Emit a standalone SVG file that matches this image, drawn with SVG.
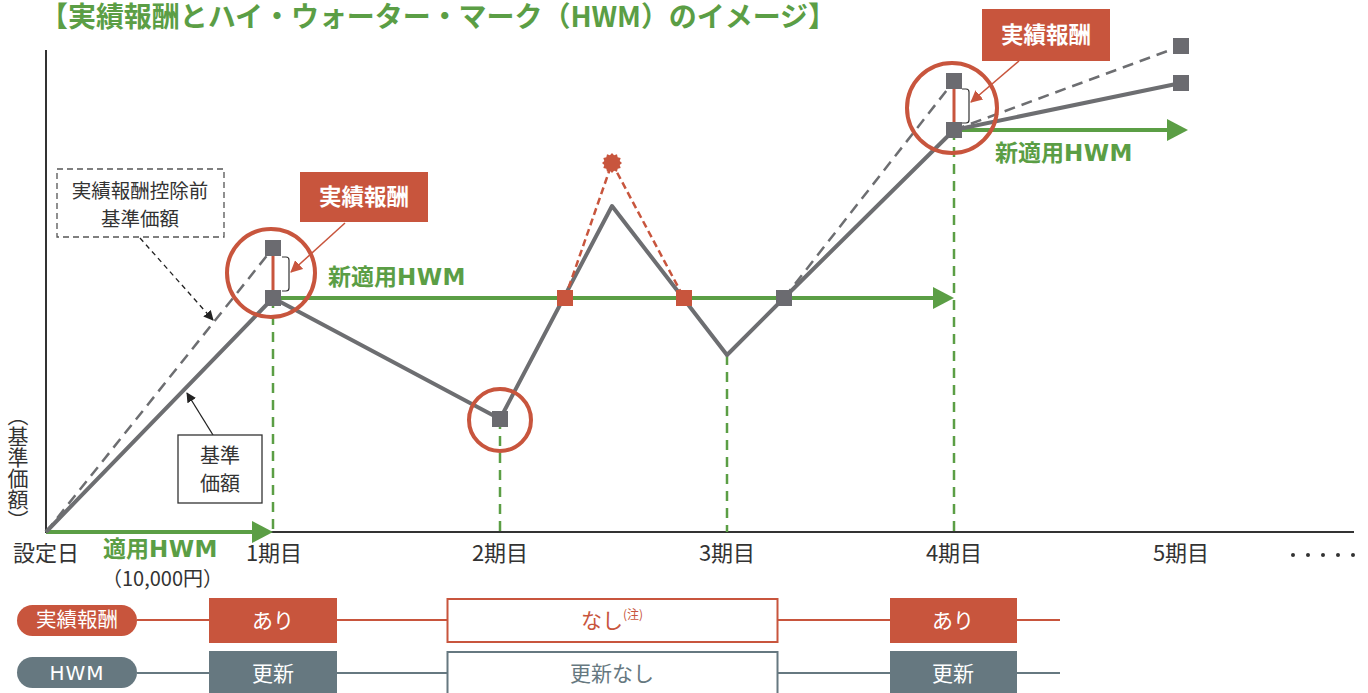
<svg xmlns="http://www.w3.org/2000/svg" width="1368" height="693" viewBox="0 0 1368 693">
<style>
text{font-family:"Noto Sans CJK JP","Noto Sans",sans-serif}
.ax{stroke:#333;stroke-width:2;fill:none}
.gd{stroke:#5b9e45;stroke-width:2.5;stroke-dasharray:10 7;fill:none}
.gl{stroke:#5b9e45;stroke-width:4;fill:none}
.ga{fill:#5b9e45}
.base{stroke:#6d6e71;stroke-width:4;fill:none;stroke-linejoin:round}
.pre{stroke:#6d6e71;stroke-width:2.5;stroke-dasharray:11 7;fill:none}
.rd{stroke:#c8553d;stroke-width:2.5;stroke-dasharray:7 4;fill:none}
.sq{fill:#6b6b70}
.rsq{fill:#c8553d}
.circ{fill:none;stroke:#c8553d;stroke-width:4}
.lbl{font-size:22px;fill:#333}
.gt{font-size:23px;font-weight:bold;fill:#5b9e45}
.lat{font-family:"DejaVu Sans",sans-serif;letter-spacing:0.5px}
.rbox{fill:#c8553d}
.bbox{fill:#667880}
.wt{font-size:21px;fill:#fff;text-anchor:middle}
.brk{fill:none;stroke:#333;stroke-width:1.2}
</style>
<defs>
<marker id="ab" markerWidth="10" markerHeight="10" refX="9" refY="5" orient="auto" markerUnits="userSpaceOnUse" viewBox="0 0 10 10"><path d="M0,0 L10,5 L0,10 z" fill="#222"/></marker>
<marker id="ar" markerWidth="12" markerHeight="12" refX="11" refY="6" orient="auto" markerUnits="userSpaceOnUse" viewBox="0 0 12 12"><path d="M0,0 L12,6 L0,12 z" fill="#c8553d"/></marker>
</defs>
<rect width="1368" height="693" fill="#fff"/>

<text x="40" y="27" font-size="28" font-weight="bold" fill="#5b9e45" textLength="796" lengthAdjust="spacing">【実績報酬とハイ・ウォーター・マーク（HWM）のイメージ】</text>

<g id="axes">
<line class="ax" x1="46" y1="50" x2="46" y2="533"/>
<line class="ax" x1="46" y1="532" x2="1354" y2="532"/>
<text x="18" y="468" font-size="21" fill="#333" text-anchor="middle" style="writing-mode:vertical-rl">（基準価額）</text>
<text class="lbl" x="46" y="561" text-anchor="middle">設定日</text>
<text class="lbl" x="274" y="561" text-anchor="middle">1期目</text>
<text class="lbl" x="500" y="561" text-anchor="middle">2期目</text>
<text class="lbl" x="727" y="561" text-anchor="middle">3期目</text>
<text class="lbl" x="954" y="561" text-anchor="middle">4期目</text>
<text class="lbl" x="1181" y="561" text-anchor="middle">5期目</text>
<g fill="#333"><circle cx="1293" cy="555" r="2"/><circle cx="1308" cy="555" r="2"/><circle cx="1323" cy="555" r="2"/><circle cx="1338" cy="555" r="2"/><circle cx="1353" cy="555" r="2"/></g>
</g>

<g id="connectors">
<line class="gd" x1="273" y1="298" x2="273" y2="532"/>
<line class="gd" x1="500" y1="419" x2="500" y2="532"/>
<line class="gd" x1="727" y1="355" x2="727" y2="532"/>
<line class="gd" x1="954" y1="130" x2="954" y2="532"/>
<line class="gl" x1="46" y1="532" x2="254" y2="532"/>
<polygon class="ga" points="252,521 273,532 252,543"/>
<line class="gl" x1="273" y1="298" x2="935" y2="298"/>
<polygon class="ga" points="933,287 954,298 933,309"/>
<line class="gl" x1="954" y1="130" x2="1169" y2="130"/>
<polygon class="ga" points="1167,119 1188,130 1167,141"/>
<polyline class="pre" points="46,532 273,248"/>
<polyline class="pre" points="784,298 954,81"/>
<polyline class="pre" points="954,130 1181,46"/>
<polyline class="base" points="46,532 273,298 500,419 612,206 727,355 784,298 954,130 1181,83"/>
<polyline class="rd" points="565,298 612,163 684,298"/>
<line x1="273" y1="248" x2="273" y2="298" stroke="#c8553d" stroke-width="3"/>
<line x1="954" y1="81" x2="954" y2="130" stroke="#c8553d" stroke-width="3"/>
<path class="brk" d="M282,257 h4 q3,0 3,3 v28 q0,3 -3,3 h-4"/>
<path class="brk" d="M962,89 h4 q3,0 3,3 v28 q0,3 -3,3 h-4"/>
<line x1="345" y1="223" x2="291" y2="272" stroke="#c8553d" stroke-width="1.5" marker-end="url(#ar)"/>
<line x1="1019" y1="61" x2="971" y2="102" stroke="#c8553d" stroke-width="1.5" marker-end="url(#ar)"/>
<line x1="140" y1="238" x2="213" y2="320" stroke="#222" stroke-width="1.3" stroke-dasharray="5 4" marker-end="url(#ab)"/>
<line x1="213" y1="435" x2="187" y2="393" stroke="#222" stroke-width="1.3" marker-end="url(#ab)"/>
</g>

<g id="points">
<rect class="sq" x="265" y="240" width="16" height="16"/>
<rect class="sq" x="265" y="290" width="16" height="16"/>
<rect class="sq" x="492" y="411" width="16" height="16"/>
<rect class="sq" x="776" y="290" width="16" height="16"/>
<rect class="sq" x="946" y="73" width="16" height="16"/>
<rect class="sq" x="946" y="122" width="16" height="16"/>
<rect class="sq" x="1173" y="38" width="16" height="16"/>
<rect class="sq" x="1173" y="75" width="16" height="16"/>
<rect class="rsq" x="557" y="290" width="16" height="16"/>
<rect class="rsq" x="676" y="290" width="16" height="16"/>
<polygon class="rsq" transform="translate(612,163)" points="10,0 7.73,2.07 8.66,5 5.66,5.66 5,8.66 2.07,7.73 0,10 -2.07,7.73 -5,8.66 -5.66,5.66 -8.66,5 -7.73,2.07 -10,0 -7.73,-2.07 -8.66,-5 -5.66,-5.66 -5,-8.66 -2.07,-7.73 0,-10 2.07,-7.73 5,-8.66 5.66,-5.66 8.66,-5 7.73,-2.07"/>
</g>

<g id="circles">
<circle class="circ" cx="271" cy="273" r="44"/>
<circle class="circ" cx="952" cy="108" r="45"/>
<circle class="circ" cx="500" cy="420" r="31"/>
</g>

<g id="label-pre">
<rect x="57" y="169" width="167" height="68" fill="#fff" stroke="#555" stroke-width="1.3" stroke-dasharray="6 4"/>
<text x="140" y="198" font-size="19.5" fill="#333" text-anchor="middle">実績報酬控除前</text>
<text x="140" y="226" font-size="19.5" fill="#333" text-anchor="middle">基準価額</text>
</g>
<g id="label-base">
<rect x="178" y="435" width="84" height="68" fill="#fff" stroke="#333" stroke-width="1.3"/>
<text x="220" y="463" font-size="20" fill="#333" text-anchor="middle">基準</text>
<text x="220" y="491" font-size="20" fill="#333" text-anchor="middle">価額</text>
</g>
<g id="fee1">
<rect class="rbox" x="300" y="172" width="128" height="50"/>
<text class="wt" x="364" y="205" font-weight="bold" style="font-size:22.5px">実績報酬</text>
</g>
<g id="fee2">
<rect class="rbox" x="982" y="9" width="128" height="52"/>
<text class="wt" x="1046" y="43" font-weight="bold" style="font-size:22.5px">実績報酬</text>
</g>
<g id="hwm-labels">
<text class="gt" x="328" y="285">新適用<tspan class="lat">HWM</tspan></text>
<text class="gt" x="995" y="161">新適用<tspan class="lat">HWM</tspan></text>
<text class="gt" x="103" y="557">適用<tspan class="lat">HWM</tspan></text>
<text x="102" y="586" font-size="20" fill="#333">（10,000円）</text>
</g>

<g id="row-fee">
<line x1="137" y1="620" x2="1060" y2="620" stroke="#c8553d" stroke-width="2"/>
<rect class="rbox" x="17" y="605" width="120" height="31" rx="15.5"/>
<text class="wt" x="77" y="627" style="font-size:20.5px">実績報酬</text>
<rect class="rbox" x="209" y="598" width="128" height="45"/>
<text class="wt" x="273" y="628">あり</text>
<rect x="447.5" y="599" width="330" height="43" fill="#fff" stroke="#c8553d" stroke-width="2"/>
<text x="612" y="628" font-size="21" fill="#c8553d" text-anchor="middle">なし<tspan font-size="12" dy="-9">(注)</tspan></text>
<rect class="rbox" x="890" y="598" width="127" height="45"/>
<text class="wt" x="953" y="628">あり</text>
</g>

<g id="row-hwm">
<line x1="137" y1="673" x2="1060" y2="673" stroke="#667880" stroke-width="2"/>
<rect class="bbox" x="17" y="657" width="120" height="31" rx="15.5"/>
<text class="wt" x="77" y="680" style="font-size:20px;font-family:'DejaVu Sans',sans-serif;letter-spacing:1px">HWM</text>
<rect class="bbox" x="209" y="651" width="128" height="45"/>
<text class="wt" x="273" y="681">更新</text>
<rect x="447.5" y="652" width="330" height="45" fill="#fff" stroke="#667880" stroke-width="2"/>
<text x="612" y="681" font-size="21" fill="#667880" text-anchor="middle">更新なし</text>
<rect class="bbox" x="890" y="651" width="127" height="45"/>
<text class="wt" x="953" y="681">更新</text>
</g>
</svg>
